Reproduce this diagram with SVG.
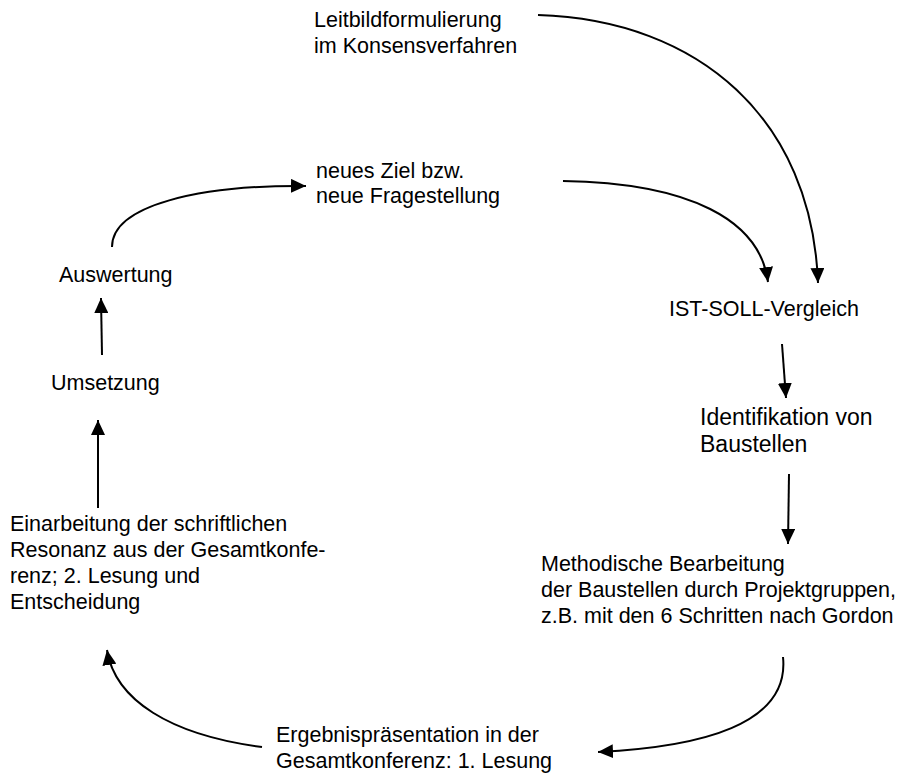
<svg xmlns="http://www.w3.org/2000/svg" width="908" height="776" viewBox="0 0 908 776">
<defs>
<marker id="ah" markerUnits="userSpaceOnUse" markerWidth="16" markerHeight="14" refX="15" refY="7" orient="auto" viewBox="0 0 16 14">
<path d="M0,0 L15,7 L0,14 Z" fill="#000"/>
</marker>
</defs>
<style>
text{font-family:"Liberation Sans",Arial,sans-serif;font-size:21.5px;fill:#000}
.big{font-size:23px}
.c{fill:none;stroke:#000;stroke-width:2;marker-end:url(#ah)}
</style>
<rect width="908" height="776" fill="#fff"/>
<g id="connectors">
<path class="c" d="M538,15 C700,20 812,120 818,283"/>
<path class="c" d="M563,181 C690,183 760,220 768,282"/>
<path class="c" d="M112,247 C112,205 200,185 306,186"/>
<path class="c" d="M782,344 L786,398"/>
<path class="c" d="M789,474 L788,544"/>
<path class="c" d="M783,657 C790,725 700,747 598,752"/>
<path class="c" d="M262,747 C170,735 115,700 107,650"/>
<path class="c" d="M98,508 L98,420"/>
<path class="c" d="M102,355 L101,298"/>
</g>
<g id="leitbild"><text x="314" y="27">Leitbildformulierung</text><text x="314" y="53">im Konsensverfahren</text></g>
<g id="neuesZiel"><text x="316" y="178">neues Ziel bzw.</text><text x="316" y="203">neue Fragestellung</text></g>
<g id="istsoll"><text x="669" y="316">IST-SOLL-Vergleich</text></g>
<g id="identifikation"><text class="big" x="700" y="425">Identifikation von</text><text class="big" x="700" y="452">Baustellen</text></g>
<g id="methodisch"><text x="541" y="571">Methodische Bearbeitung</text><text x="541" y="597">der Baustellen durch Projektgruppen,</text><text x="541" y="623">z.B. mit den 6 Schritten nach Gordon</text></g>
<g id="ergebnis"><text x="276" y="742">Ergebnispräsentation in der</text><text x="276" y="768">Gesamtkonferenz: 1. Lesung</text></g>
<g id="einarbeitung"><text x="10" y="531">Einarbeitung der schriftlichen</text><text x="10" y="557">Resonanz aus der Gesamtkonfe-</text><text x="10" y="583">renz; 2. Lesung und</text><text x="10" y="609">Entscheidung</text></g>
<g id="umsetzung"><text x="51" y="390">Umsetzung</text></g>
<g id="auswertung"><text x="59" y="282">Auswertung</text></g>
</svg>
